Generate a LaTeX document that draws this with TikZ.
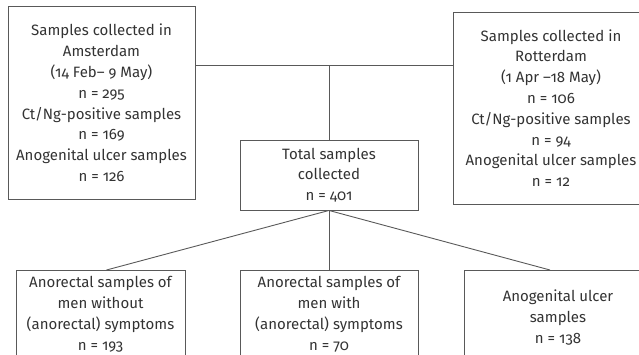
\documentclass[tikz,border=0pt]{standalone}
\usepackage{fontspec}
\setmainfont{Fira Sans}[Numbers=OldStyle]
\usetikzlibrary{positioning}
\definecolor{boxline}{gray}{0.35}
\definecolor{boxtext}{gray}{0.2}
\tikzset{every sample/.style={draw=boxline, line width=0.9pt, text=boxtext, align=center, inner sep=0pt,
                              font=\fontsize{15}{20.8}\selectfont},
         link/.style={draw=boxline, line width=0.9pt},
        }

\begin{document}
\begin{tikzpicture}[x=1pt, y=-1pt]
        \path[use as bounding box, clip](0,0)rectangle(639,354);
        \node[every sample, minimum width=187, minimum height=193](ams)at(101.5,103){Samples collected in\\Amsterdam\\(14 Feb– 9 May)\\n = 295\\Ct/Ng-positive samples\\n = 169\\Anogenital ulcer samples\\n = 126};
        \node[every sample, minimum width=196, minimum height=192](rot)at(551,108){Samples collected in\\Rotterdam\\(1 Apr –18 May)\\n = 106\\Ct/Ng-positive samples\\n = 94\\Anogenital ulcer samples\\n = 12};
        \node[every sample, minimum width=178, minimum height=70](total)at(329,175){Total samples\\collected\\n = 401};

        \node[every sample, minimum width=169, minimum height=88, anchor=north](men)at(100.5,270){Anorectal samples of\\men without\\(anorectal) symptoms\\n = 193};
        \node[every sample, minimum width=178, minimum height=88, anchor=north](sym)at(329,270){Anorectal samples of\\men with\\(anorectal) symptoms\\n = 70};
        \node[every sample, minimum width=188, minimum height=94, anchor=north](ulc)at(558,270){Anogenital ulcer\\samples\\n = 138};

        \coordinate(join)at(329,65);
        \draw[link](ams.east |- join)--(rot.west |- join);
        \draw[link](join)--(total.north);
        \draw[link](total.south)--([xshift=6pt]men.north);
        \draw[link](total.south)--(sym.north);
        \draw[link](total.south)--([xshift=-8pt]ulc.north);
    \end{tikzpicture}
\end{document}
